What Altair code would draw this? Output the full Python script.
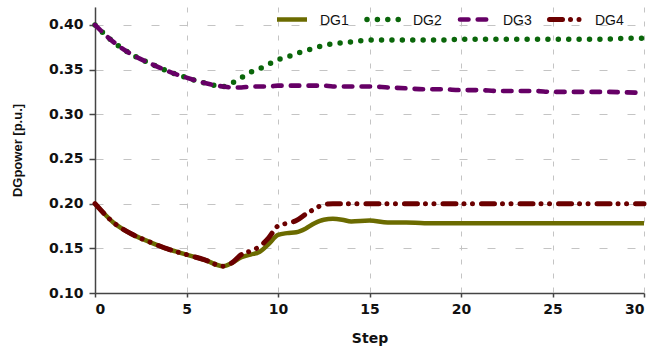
import altair as alt
import pandas as pd

# Optimisation steps at which the DG outputs were recorded
steps = [0, 1, 2, 3, 4, 5, 6, 7, 7.5, 8, 8.5, 9, 9.5, 10, 10.5, 11, 11.5, 12,
         12.5, 13, 13.5, 14, 15, 16, 17, 18, 19, 20, 21, 22, 23, 24, 25, 26,
         27, 28, 29, 30]

# DG output power in p.u.
dg1 = [0.200, 0.179, 0.166, 0.157, 0.149, 0.143, 0.137, 0.130, 0.134, 0.140,
       0.143, 0.146, 0.155, 0.165, 0.167, 0.168, 0.172, 0.178, 0.182, 0.183,
       0.182, 0.180, 0.181, 0.179, 0.179, 0.178, 0.178, 0.178, 0.178, 0.178,
       0.178, 0.178, 0.178, 0.178, 0.178, 0.178, 0.178, 0.178]
dg2 = [0.400, 0.381, 0.367, 0.357, 0.348, 0.341, 0.335, 0.331, 0.335, 0.341,
       0.347, 0.351, 0.356, 0.361, 0.364, 0.368, 0.371, 0.374, 0.377, 0.379,
       0.380, 0.381, 0.383, 0.383, 0.383, 0.383, 0.383, 0.384, 0.384, 0.384,
       0.384, 0.384, 0.384, 0.384, 0.384, 0.384, 0.385, 0.385]
dg3 = [0.400, 0.381, 0.367, 0.357, 0.348, 0.341, 0.335, 0.331, 0.330, 0.330,
       0.331, 0.331, 0.331, 0.332, 0.332, 0.332, 0.332, 0.332, 0.332, 0.331,
       0.331, 0.331, 0.331, 0.330, 0.329, 0.328, 0.328, 0.327, 0.327, 0.326,
       0.326, 0.326, 0.325, 0.325, 0.325, 0.325, 0.3245, 0.324]
dg4 = [0.200, 0.179, 0.166, 0.157, 0.149, 0.143, 0.137, 0.130, 0.134, 0.143,
       0.147, 0.152, 0.162, 0.175, 0.178, 0.181, 0.188, 0.194, 0.199, 0.200,
       0.200, 0.200, 0.200, 0.200, 0.200, 0.200, 0.200, 0.200, 0.200, 0.200,
       0.200, 0.200, 0.200, 0.200, 0.200, 0.200, 0.200, 0.200]

names = ["DG1", "DG2", "DG3", "DG4"]
series = [dg1, dg2, dg3, dg4]

# line style of each unit: colour, width, dash pattern, cap
styles = {
    "DG1": dict(color="#6b6b00", strokeWidth=4.5, strokeCap="butt"),
    "DG2": dict(color="#0a660a", strokeWidth=5.5, strokeDash=[0, 10.4], strokeCap="round"),
    "DG3": dict(color="#660066", strokeWidth=4.6, strokeDash=[8.5, 9.2], strokeCap="round"),
    "DG4": dict(color="#6b0000", strokeWidth=5, strokeDash=[13, 8, 0.01, 8.5, 0.01, 9], strokeCap="round"),
}

# legend placement (pixels inside the plot area)
legend_rule = {"DG1": (182, 212), "DG2": (272, 303.5), "DG3": (365, 393), "DG4": (454.5, 485.5)}
legend_text = {"DG1": 225, "DG2": 318, "DG3": 408, "DG4": 500}
legend_y = 12.5

W, H = 549, 286

x_enc = alt.X("step:Q", title="Step",
              scale=alt.Scale(domain=[0, 30], nice=False),
              axis=alt.Axis(values=[0, 5, 10, 15, 20, 25, 30], format="d",
                            gridDash=[5, 9], tickSize=4, labelPadding=5,
                            titleX=W / 2, titleY=45, titleBaseline="middle",
                            titleAlign="center"))
y_enc = alt.Y("power:Q", title="DGpower [p.u.]",
              scale=alt.Scale(domain=[0.10, 0.42], nice=False, zero=False),
              axis=alt.Axis(values=[0.10, 0.15, 0.20, 0.25, 0.30, 0.35, 0.40],
                            format=".2f", gridDash=[8, 20], tickSize=6,
                            labelPadding=6, titleFont="Liberation Sans",
                            titleFontSize=13, titleAngle=-90, titleX=-78,
                            titleY=H / 2, titleAlign="center",
                            titleBaseline="middle"))

layers = []
for name, vals in zip(names, series):
    df = pd.DataFrame({"step": steps, "power": vals})
    st = styles[name]
    layers.append(
        alt.Chart(df).mark_line(interpolate="monotone", **st).encode(x=x_enc, y=y_enc)
    )

# legend row across the top of the plot
for name in names:
    st = styles[name]
    x1, x2 = legend_rule[name]
    one = pd.DataFrame({"label": [name]})
    layers.append(
        alt.Chart(one).mark_rule(**st).encode(
            x=alt.value(x1), x2=alt.value(x2), y=alt.value(legend_y))
    )
    layers.append(
        alt.Chart(one).mark_text(align="left", baseline="middle",
                                 font="Liberation Sans", fontSize=14,
                                 color="#111111").encode(
            x=alt.value(legend_text[name]), y=alt.value(legend_y + 1),
            text="label:N")
    )

chart = alt.layer(*layers).properties(
    width=W, height=H,
    autosize=alt.AutoSizeParams(type="none"),
    padding={"left": 95, "top": 7, "right": 11, "bottom": 57},
    background="white",
).configure_view(stroke=None).configure_axis(
    labelFont="DejaVu Sans", labelFontWeight="bold", labelFontSize=14,
    labelColor="#111111",
    titleFont="DejaVu Sans", titleFontWeight="bold", titleFontSize=14,
    titleColor="#111111",
    domainColor="#444444", domainWidth=1.5,
    tickColor="#444444", tickWidth=1.5,
    gridColor="#c4c4c4", gridWidth=1,
)

chart.save("out.html", embed_options={"renderer": "svg", "actions": False})
